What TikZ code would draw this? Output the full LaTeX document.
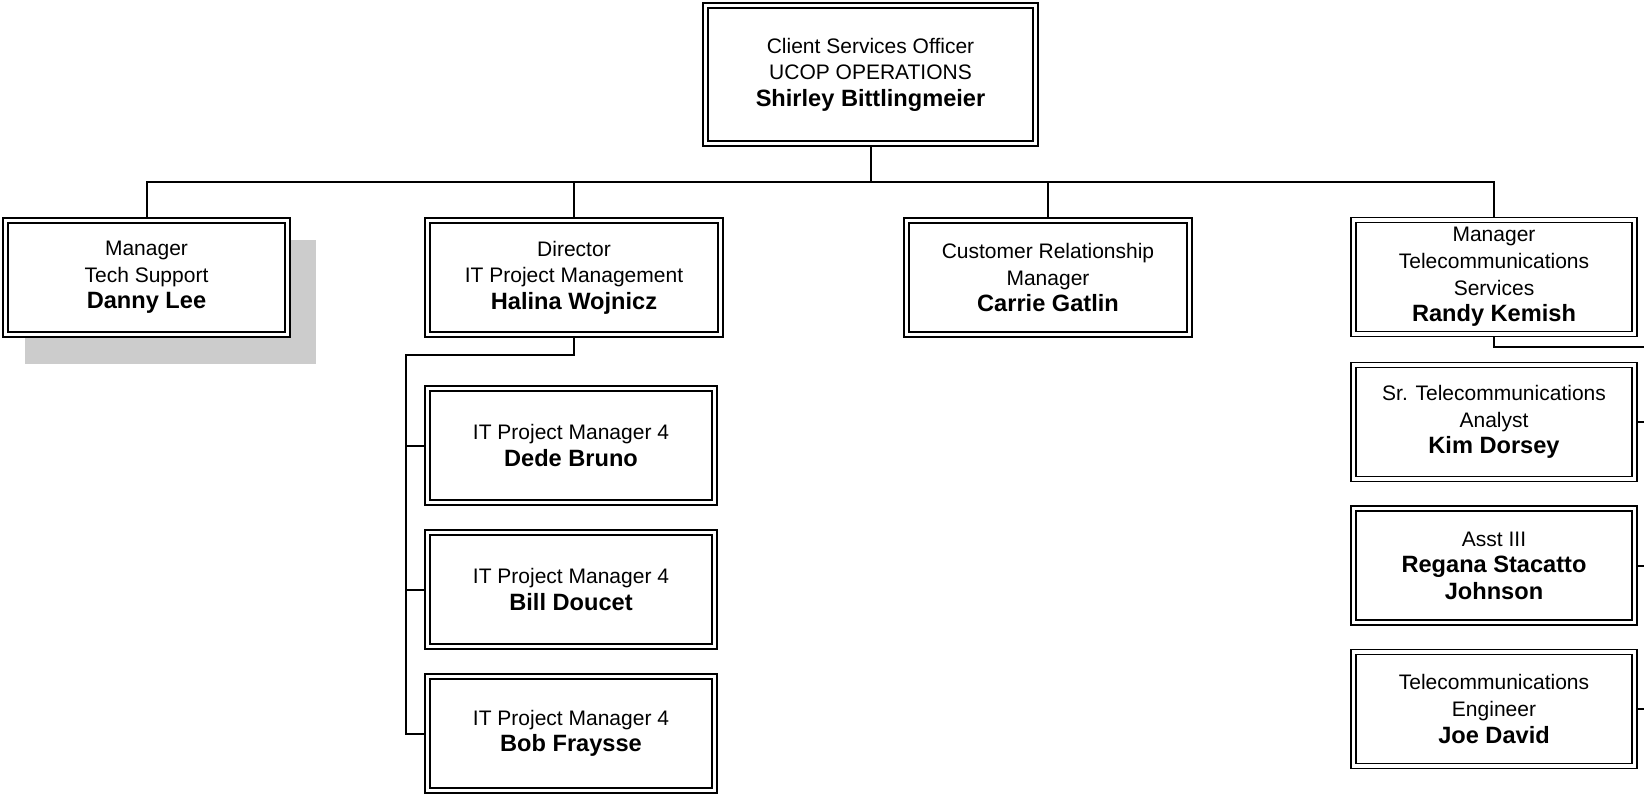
\documentclass[tikz,border=0pt]{standalone}
\usepackage{fontspec}
\setmainfont{Liberation Sans}
\usetikzlibrary{backgrounds}
\tikzset{
  orgbox/.style={draw, double, line width=0.85pt, double distance=1.65pt, fill=white,
    align=center, inner sep=2pt, minimum height=57pt,
    font=\fontsize{10.5}{13.3}\selectfont},
  topbox/.style={orgbox, minimum width=165pt, minimum height=69pt},
  linkln/.style={line width=1pt},
  shadowfill/.style={fill=black!20},
}
\newcommand{\who}[1]{{\fontsize{11.8}{13.3}\selectfont\bfseries #1}}

\begin{document}
\begin{tikzpicture}[x=0.5pt, y=-0.5pt]
  \useasboundingbox (0,0) rectangle (1644,793);
  \clip (0,0) rectangle (1644,793);
  % head of the unit
  \node[topbox] (cso) at (870.5,74.5) {Client Services Officer\\UCOP OPERATIONS\\\who{Shirley Bittlingmeier}};
  % direct reports
  \node[orgbox, minimum width=141pt] (techsup) at (146.5,277.5) {Manager\\Tech Support\\\who{Danny Lee}};
  \node[orgbox, minimum width=146.5pt] (itpm) at (574,277.5) {Director\\IT Project Management\\\who{Halina Wojnicz}};
  \node[orgbox, minimum width=141.5pt] (crm) at (1048,277.5) {Customer Relationship\\Manager\\\who{Carrie Gatlin}};
  \node[orgbox, minimum width=140.5pt] (telmgr) at (1494,277) {Manager\\Telecommunications\\Services\\\who{Randy Kemish}};
  % project managers
  \node[orgbox, minimum width=143.5pt] (pm1) at (571,445.5) {IT Project Manager 4\\\who{Dede Bruno}};
  \node[orgbox, minimum width=143.5pt] (pm2) at (571,589.5) {IT Project Manager 4\\\who{Bill Doucet}};
  \node[orgbox, minimum width=143.5pt] (pm3) at (571,733.5) {IT Project Manager 4\\\who{Bob Fraysse}};
  % telecommunications staff
  \node[orgbox, minimum width=140.5pt] (telan) at (1494,422) {Sr. Telecommunications\\Analyst\\\who{Kim Dorsey}};
  \node[orgbox, minimum width=140.5pt] (asst) at (1494,565.5) {Asst III\\\who{Regana Stacatto}\\\who{Johnson}};
  \node[orgbox, minimum width=140.5pt] (teleng) at (1494,709) {Telecommunications\\Engineer\\\who{Joe David}};

  \begin{scope}[on background layer]
    \clip (0,0) rectangle (1644,793);
    \fill[shadowfill] ([shift={(20,20.5)}]techsup.north west) rectangle ([shift={(27.5,28.5)}]techsup.south east);
    \coordinate (bus) at (870.5,182);
    \coordinate (pmline) at (406,355);
    \coordinate (telline) at (1680,347);
    \draw[linkln] (cso.south) -- (bus);
    \foreach \n in {techsup,itpm,crm,telmgr}
      \draw[linkln] (\n.north) |- (bus);
    % project managers hang on the left
    \draw[linkln] (itpm.south) |- (pmline) |- (pm3.west);
    \foreach \n in {pm1,pm2}
      \draw[linkln] (\n.west) -- (\n.west -| pmline);
    % telecommunications hang on the right
    \draw[linkln] (telmgr.south) |- (telline) |- (teleng.east);
    \foreach \n in {telan,asst}
      \draw[linkln] (\n.east) -- (\n.east -| telline);
  \end{scope}
\end{tikzpicture}
\end{document}
